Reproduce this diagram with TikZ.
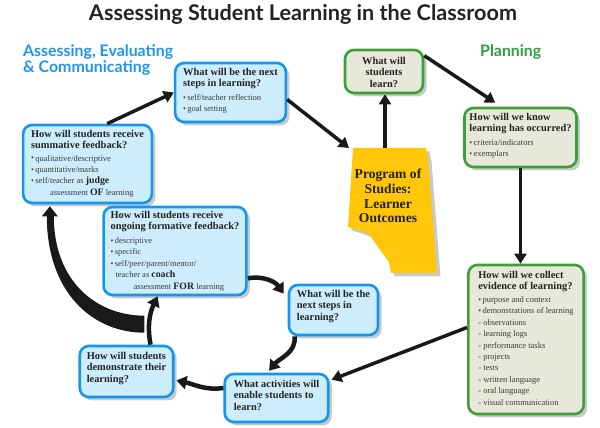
\documentclass[tikz,border=0pt]{standalone}
\usepackage{fontspec}
\setmainfont{Liberation Serif}
\newfontfamily\hfont{Lato}
\usetikzlibrary{arrows.meta,shadows,calc}
\definecolor{bblue}{RGB}{20,150,240}
\definecolor{bfill}{RGB}{205,236,252}
\definecolor{ggreen}{RGB}{60,160,55}
\definecolor{gfill}{RGB}{231,231,218}
\definecolor{pyellow}{RGB}{255,198,10}
\definecolor{arr}{RGB}{25,25,25}
\definecolor{hblue}{RGB}{30,150,240}
\definecolor{hgreen}{RGB}{45,160,60}
\definecolor{ink}{RGB}{35,35,35}
\definecolor{ink2}{RGB}{60,60,60}
\newcommand\tl[1]{\hbox{\fontsize{10.4}{11.5}\selectfont\bfseries\color{ink}#1}}
\newcommand\tc[1]{\hbox to\hsize{\hfil\fontsize{10.4}{11.5}\selectfont\bfseries\color{ink}#1\hfil}}
\newcommand\bu[1]{\hbox{\fontsize{8.5}{11.3}\selectfont\color{ink2}\raisebox{0.3pt}{\scalebox{0.95}{\textbullet}}\,#1}}
\newcommand\sbl[1]{\hbox{\fontsize{8.5}{11.3}\selectfont\color{ink2}#1}}
\newcommand\bb[1]{{\fontsize{9.8}{11}\selectfont\bfseries\color{ink}#1}}
\newcommand\bsk{\baselineskip=11.4pt\lineskiplimit=-20pt\lineskip=0pt\relax}
\begin{document}
\begin{tikzpicture}[x=1pt,y=1pt,
  bbox/.style={draw=bblue, fill=bfill, line width=2.6pt, rounded corners=9pt,
    drop shadow={shadow xshift=3.5pt,shadow yshift=-3.5pt,opacity=0.3,fill=black!70}},
  gbox/.style={bbox, draw=ggreen, fill=gfill},
  sarrow/.style={draw=arr, line width=3.5pt, -{Triangle[width=12pt,length=10pt]}},
  carrow/.style={draw=arr, line width=4.5pt, -{Triangle[width=13pt,length=10pt]}}]
\useasboundingbox (0,0) rectangle (600,428);
% headings
\node[anchor=base, text=ink, inner sep=0pt] (title) at (303,407)
  {\resizebox{428pt}{!}{\hfont\bfseries Assessing Student Learning in the Classroom}};
\node[anchor=base west, text=hblue, inner sep=0pt] (h1) at (23,371)
  {\resizebox{150pt}{!}{\hfont\bfseries Assessing, Evaluating}};
\node[anchor=base west, text=hblue, inner sep=0pt] (h2) at (23,355)
  {\resizebox{127pt}{!}{\hfont\bfseries \& Communicating}};
\node[anchor=base west, text=hgreen, inner sep=0pt] (h3) at (480,371)
  {\resizebox{61pt}{!}{\hfont\bfseries Planning}};
% program of studies shape
\fill[pyellow, drop shadow={shadow xshift=3.5pt,shadow yshift=-3.5pt,opacity=0.3,fill=black!70}]
  (353,280) -- (426,280) -- (428,270) -- (437,155) -- (391,155) -- (389,166) -- (378,181)
  -- (369,194) -- (358,198) -- (348,201) -- cycle;
\node[font=\fontsize{13.6}{14.7}\selectfont\bfseries, align=center, text=ink, inner sep=0pt] (prog) at (388,232)
  {Program of\\Studies:\\Learner\\Outcomes};
\coordinate (progtl) at (349,280);
\coordinate (progtop) at (385,280);
% boxes
\node[bbox, inner xsep=8pt, inner ysep=5pt] (A) at (230.5,335.5)
  {\parbox[c][49pt][t]{97pt}{\bsk\tl{What will be the next}\tl{steps in learning?}\vskip2.5pt
   \bu{self/teacher reflection}\bu{goal setting}}};
\node[bbox, inner xsep=8pt, inner ysep=5pt] (B) at (87.5,264)
  {\parbox[c][68pt][t]{119pt}{\bsk\tl{How will students receive}\tl{summative feedback?}\vskip1pt
   \bu{qualitative/descriptive}\bu{quantitative/marks}\bu{self/teacher as \bb{judge}}
   \sbl{\hskip19pt assessment \bb{OF} learning}}};
\node[gbox, inner xsep=4pt, inner ysep=7pt] (C) at (384,356.5)
  {\parbox[c][29pt][t]{70pt}{\bsk\tc{What will}\tc{students}\tc{learn?}}};
\node[gbox, inner xsep=5pt, inner ysep=5pt] (D) at (520.5,290.5)
  {\parbox[c][49pt][t]{105pt}{\bsk\tl{How will we know}\tl{learning has occurred?}\vskip2.5pt
   \bu{criteria/indicators}\bu{exemplars}}};
\node[bbox, inner xsep=7pt, inner ysep=4pt] (E) at (175,177)
  {\parbox[c][80pt][t]{130pt}{\bsk\tl{How will students receive}\tl{ongoing formative feedback?}\vskip2.5pt
   \bu{descriptive}\bu{specific}\bu{self/peer/parent/mentor/}
   \sbl{\hskip5pt teacher as \bb{coach}}\sbl{\hskip23pt assessment \bb{FOR} learning}}};
\node[bbox, inner xsep=8pt, inner ysep=5pt] (F) at (333.5,118)
  {\parbox[c][40pt][t]{77pt}{\bsk\tl{What will be the}\tl{next steps in}\tl{learning?}}};
\node[bbox, inner xsep=7pt, inner ysep=6pt] (G) at (126.5,56.5)
  {\parbox[c][39pt][t]{85pt}{\bsk\tl{How will students}\tl{demonstrate their}\tl{learning?}}};
\node[bbox, inner xsep=9pt, inner ysep=6pt] (H) at (276.5,30)
  {\parbox[c][36pt][t]{85pt}{\bsk\tl{What activities will}\tl{enable students to}\tl{learn?}}};
\node[gbox, inner xsep=10pt, inner ysep=6pt] (I) at (526,88.5)
  {\parbox[c][137pt][t]{96pt}{\bsk\tl{How will we collect}\tl{evidence of learning?}\vskip1.5pt
   \bu{purpose and context}\bu{demonstrations of learning}
   \sbl{- observations}\sbl{- learning logs}\sbl{- performance tasks}\sbl{- projects}
   \sbl{- tests}\sbl{- written language}\sbl{- oral language}\sbl{- visual communication}}};
% straight arrows
\draw[sarrow] ($(B.north west)!0.65!(B.north east)$) -- (A.west);
\draw[sarrow] ($(A.east)+(0,-7)$) -- (progtl);
\draw[sarrow] (progtop) -- (progtop |- C.south);
\draw[sarrow] ($(C.north east)+(0,-7)$) -- ($(D.north west)!0.28!(D.north east)+(0,4)$);
\draw[sarrow] (D.south) -- (D.south |- I.north);
\draw[sarrow] ($(I.west)+(0,12)$) -- ($(H.north east)+(2,-7)$);
% curved cycle arrows
\draw[carrow] ($(E.south east)+(0,18)$) to[out=10,in=125] ($(F.north west)+(-4,-10)$);
\draw[carrow] ($(F.south west)+(7,0)$) to[out=-85,in=50] ($(H.north west)!0.43!(H.north east)+(0,2)$);
\draw[carrow] ($(H.west)+(0,10)$) to[out=188,in=-12] ($(G.east)+(2,-9)$);
\draw[carrow] ($(G.north west)!0.75!(G.north east)$) to[out=100,in=-115] ($(E.south west)!0.38!(E.south east)$);
% big tapered arrow to B
\coordinate (bt) at ($(B.south west)+(28,-2)$);
\coordinate (tl) at ($(G.north west)+(66,20)$);
\fill[arr] ($(tl)+(0,-8)$) .. controls ($(tl)+(-53,-8)$) and ($(bt)+(-3,-85)$) .. ($(bt)+(-3,-10)$)
  -- ($(bt)+(-8,-10)$) -- (bt) -- ($(bt)+(8,-10)$) -- ($(bt)+(4,-10)$)
  .. controls ($(bt)+(4,-75)$) and ($(tl)+(-48,9)$) .. ($(tl)+(0,9)$) -- cycle;
\end{tikzpicture}
\end{document}
